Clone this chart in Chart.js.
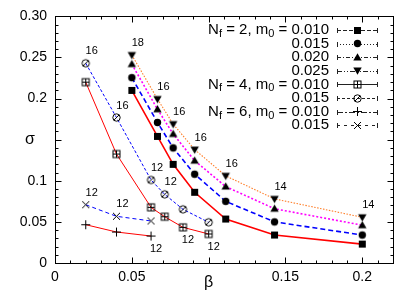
<!DOCTYPE html>
<html><head><meta charset="utf-8">
<script src="https://cdn.jsdelivr.net/npm/chart.js@4/dist/chart.umd.min.js"></script>
<style>html,body{margin:0;padding:0;background:#fff}#wrap{width:415px;height:290px;position:relative}</style>
</head><body><div id="wrap"><canvas id="c" width="415" height="290"></canvas></div>
<script>
// ---- data ----
const beta2 = [0.05, 0.0667, 0.0769, 0.0909, 0.1111, 0.1429, 0.2];
const sig2_010 = [0.210, 0.154, 0.120, 0.086, 0.0535, 0.034, 0.023];
const sig2_015 = [0.2255, 0.171, 0.140, 0.108, 0.075, 0.050, 0.034];
const sig2_020 = [0.242, 0.187, 0.157, 0.1245, 0.093, 0.066, 0.046];
const sig2_025 = [0.253, 0.1995, 0.169, 0.138, 0.106, 0.078, 0.0556];
const beta4 = [0.02, 0.04, 0.0625, 0.0714, 0.0833, 0.1];
const sig4_010 = [0.220, 0.1326, 0.0677, 0.0563, 0.0434, 0.0353];
const sig4_015 = [0.243, 0.177, 0.101, 0.0835, 0.0653, 0.0495];
const beta6 = [0.02, 0.04, 0.0625];
const sig6_010 = [0.0466, 0.0377, 0.0328];
const sig6_015 = [0.0709, 0.0568, 0.0511];
// lattice size labels attached to points
const lab2_025 = ["18","16","16","16","16","14","14"];
const lab4_015 = ["16","16","12","12","",""];
const lab4_010 = ["","","","","12","12"];
const lab6_015 = ["12","12",""];
const lab6_010 = ["","","12"];
// legend text
const legendNf = ["2","","","","4","","6",""];
const legendM0 = ["0.010","0.015","0.020","0.025","0.010","0.015","0.010","0.015"];
// ticks
const xTickValues = [0, 0.05, 0.1, 0.15, 0.2];
const xTickLabels = ["0", "0.05", "", "0.15", "0.2"];
const yTickValues = [0, 0.05, 0.1, 0.15, 0.2, 0.25, 0.3];
const yTickLabels = ["0", "0.05", "0.1", "", "0.2", "0.25", "0.30"];
const xTitle = "β", yTitle = "σ";

const FONT = '"Liberation Sans", Arial, Helvetica, sans-serif';

function mk(kind){
  const s = 13, c = document.createElement('canvas'); c.width = s; c.height = s;
  const g = c.getContext('2d'); const m = s/2;
  g.strokeStyle = '#000'; g.fillStyle = '#000'; g.lineWidth = 1;
  g.beginPath();
  switch(kind){
    case 'square': g.fillRect(m-3.5, m-3.5, 7, 7); break;
    case 'circle': g.arc(m, m, 3.7, 0, 2*Math.PI); g.fill(); break;
    case 'tri': g.moveTo(m, m-4.2); g.lineTo(m+4.2, m+3); g.lineTo(m-4.2, m+3); g.closePath(); g.fill(); break;
    case 'tridown': g.moveTo(m, m+4.2); g.lineTo(m+4.2, m-3); g.lineTo(m-4.2, m-3); g.closePath(); g.fill(); break;
    case 'boxplus': g.strokeRect(m-3.5, m-3.5, 7, 7); g.moveTo(m-3.5, m); g.lineTo(m+3.5, m); g.moveTo(m, m-3.5); g.lineTo(m, m+3.5); g.stroke(); break;
    case 'circslash': g.arc(m, m, 3.7, 0, 2*Math.PI); g.moveTo(m-2.6, m+2.6); g.lineTo(m+2.6, m-2.6); g.stroke(); break;
    case 'plus': g.moveTo(m-4.5, m); g.lineTo(m+4.5, m); g.moveTo(m, m-4.5); g.lineTo(m, m+4.5); g.stroke(); break;
    case 'cross': g.moveTo(m-3.5, m-3.5); g.lineTo(m+3.5, m+3.5); g.moveTo(m-3.5, m+3.5); g.lineTo(m+3.5, m-3.5); g.stroke(); break;
  }
  return c;
}
const markers = {
  square: mk('square'), circle: mk('circle'), tri: mk('tri'), tridown: mk('tridown'),
  boxplus: mk('boxplus'), circslash: mk('circslash'), plus: mk('plus'), cross: mk('cross')
};
function pts(xs, ys){ return xs.map((x,i)=>({x:x, y:ys[i]})); }
function ds(xs, ys, color, width, dash, marker, labels, labelPos, keyDash){
  return { data: pts(xs, ys), showLine: true, borderColor: color, borderWidth: width, borderDash: dash,
    tension: 0, pointStyle: markers[marker], pointRadius: 4, pointHoverRadius: 4,
    backgroundColor: '#000', fill: false, _marker: marker, _labels: labels, _labelPos: labelPos, _keyDash: keyDash };
}
const datasets = [
  ds(beta2, sig2_010, '#ff0000', 1.6, [], 'square', null, null, [4,2]),
  ds(beta2, sig2_015, '#0000ff', 1.6, [5,3], 'circle', null, null, [1,2]),
  ds(beta2, sig2_020, '#ff00ff', 1.6, [2,2], 'tri', null, null, [4,2,1,2]),
  ds(beta2, sig2_025, '#ff7f2a', 1.1, [1.5,1.5], 'tridown', lab2_025, 'above', [5,2,1,2,1,2]),
  ds(beta4, sig4_010, '#ff0000', 1, [], 'boxplus', lab4_010, 'below', []),
  ds(beta4, sig4_015, '#0000ff', 1, [3,2], 'circslash', lab4_015, 'above', [3,2]),
  ds(beta6, sig6_010, '#ff0000', 1, [], 'plus', lab6_010, 'below', [6,2,2,2]),
  ds(beta6, sig6_015, '#0000ff', 1, [4,3], 'cross', lab6_015, 'above', [3,4]),
];

const decor = {
  id: 'decor',
  afterDraw(chart){
    const ctx = chart.ctx, a = chart.chartArea, xs = chart.scales.x, ys = chart.scales.y;
    ctx.save();
    // frame
    ctx.strokeStyle = '#000'; ctx.lineWidth = 1;
    const L = Math.round(a.left)+0.5, R = Math.round(a.right)+0.5, T = Math.round(a.top)+0.5, B = Math.round(a.bottom)+0.5;
    ctx.strokeRect(L, T, R-L, B-T);
    ctx.beginPath();
    for (let i = 0; i <= 22; i++){
      const v = i/100, px = Math.round(xs.getPixelForValue(v))+0.5, len = (i%5===0)?6:3;
      ctx.moveTo(px, B); ctx.lineTo(px, B-len); ctx.moveTo(px, T); ctx.lineTo(px, T+len);
    }
    for (let i = 0; i <= 30; i++){
      const v = i/100, py = Math.round(ys.getPixelForValue(v))+0.5, len = (i%5===0)?6:3;
      ctx.moveTo(L, py); ctx.lineTo(L+len, py); ctx.moveTo(R, py); ctx.lineTo(R-len, py);
    }
    ctx.stroke();
    // axis titles
    ctx.fillStyle = '#000'; ctx.textAlign = 'center'; ctx.textBaseline = 'middle';
    ctx.font = '16px ' + FONT;
    ctx.fillText(yTitle, 30, ys.getPixelForValue(0.15));
    ctx.fillText(xTitle, xs.getPixelForValue(0.1), 283);
    // point labels
    ctx.font = '11px ' + FONT;
    chart.data.datasets.forEach(d => {
      if (!d._labels) return;
      d.data.forEach((p, i) => {
        const t = d._labels[i]; if (!t) return;
        const px = xs.getPixelForValue(p.x), py = ys.getPixelForValue(p.y);
        if (d._labelPos === 'above') ctx.fillText(t, px+6, py-12);
        else ctx.fillText(t, px+5, py+13);
      });
    });
    // legend
    const right = 329, x0 = 337, x1 = 377, xm = 357;
    chart.data.datasets.forEach((d, i) => {
      const y = 30 + i*13.6;
      const segs = [];
      if (legendNf[i]) {
        segs.push({t:'N'}, {t:'f', sub:true}, {t:' = ' + legendNf[i] + ', m'}, {t:'0', sub:true}, {t:' = '});
      }
      segs.push({t: legendM0[i]});
      let w = 0;
      segs.forEach(s => { ctx.font = (s.sub ? '11px ' : '15px ') + FONT; s.w = ctx.measureText(s.t).width; w += s.w; });
      let x = right - w;
      ctx.textAlign = 'left';
      segs.forEach(s => {
        ctx.font = (s.sub ? '11px ' : '15px ') + FONT;
        ctx.fillText(s.t, x, s.sub ? y+4 : y);
        x += s.w;
      });
      // sample
      ctx.strokeStyle = '#222'; ctx.lineWidth = 1;
      ctx.setLineDash(d._keyDash);
      ctx.beginPath(); ctx.moveTo(x0, Math.round(y)+0.5); ctx.lineTo(x1, Math.round(y)+0.5); ctx.stroke();
      ctx.setLineDash([]);
      ctx.beginPath();
      ctx.moveTo(x0+0.5, Math.round(y)-2); ctx.lineTo(x0+0.5, Math.round(y)+3);
      ctx.moveTo(x1+0.5, Math.round(y)-2); ctx.lineTo(x1+0.5, Math.round(y)+3);
      ctx.stroke();
      const mkc = markers[d._marker];
      ctx.drawImage(mkc, Math.round(xm - mkc.width/2), Math.round(y - mkc.height/2));
    });
    ctx.restore();
  }
};

new Chart(document.getElementById('c'), {
  type: 'scatter',
  data: { datasets: datasets },
  options: {
    animation: false, responsive: false, devicePixelRatio: 1,
    layout: { padding: { top: 16, right: 22, left: 0, bottom: 0 } },
    plugins: { legend: { display: false }, tooltip: { enabled: false } },
    scales: {
      x: { type: 'linear', min: 0, max: 0.22,
        grid: { display: false, drawTicks: false }, border: { display: false },
        afterBuildTicks: s => { s.ticks = xTickValues.map(v => ({ value: v })); },
        afterFit: s => { s.height = 27; },
        ticks: { autoSkip: false, maxRotation: 0, padding: 6, color: '#000',
          font: { family: FONT, size: 14 }, callback: (v, i) => xTickLabels[i] } },
      y: { type: 'linear', min: 0, max: 0.3,
        grid: { display: false, drawTicks: false }, border: { display: false },
        afterBuildTicks: s => { s.ticks = yTickValues.map(v => ({ value: v })); },
        afterFit: s => { s.width = 55; },
        ticks: { autoSkip: false, padding: 8, color: '#000',
          font: { family: FONT, size: 14 }, callback: (v, i) => yTickLabels[i] } }
    }
  },
  plugins: [decor]
});
</script></body></html>
